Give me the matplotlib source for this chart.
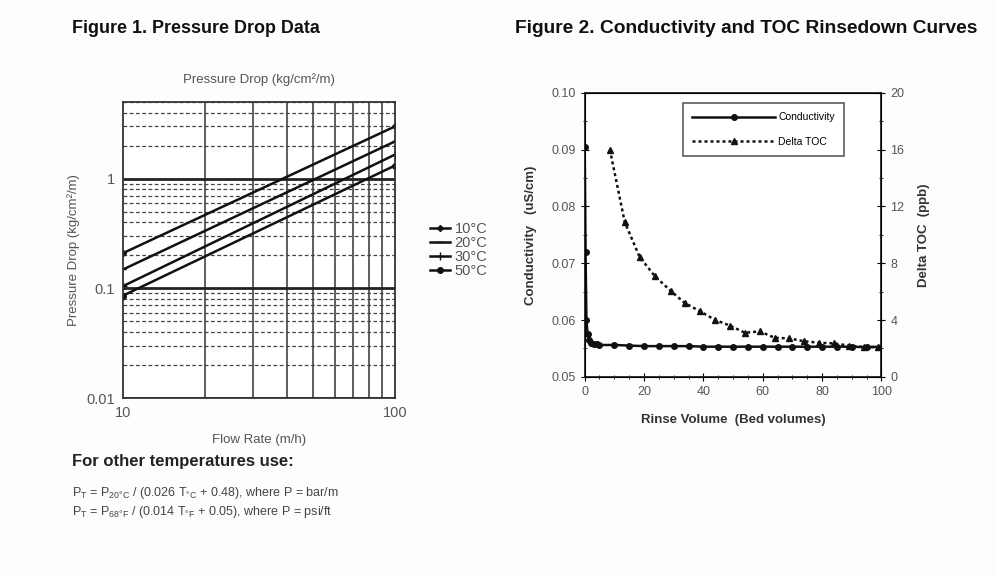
import matplotlib
matplotlib.use('Agg')
import matplotlib.pyplot as plt
from matplotlib.ticker import MultipleLocator, LogLocator, NullFormatter, FixedLocator

plt.rcParams['font.family'] = ['Liberation Sans', 'DejaVu Sans']
plt.rcParams['mathtext.default'] = 'regular'

# Figure 1: Druckverlust je Temperatur (Endpunkte der Geraden)
flow_rate = [10, 100]
dp_10c = [0.21, 3.0]
dp_20c = [0.149, 2.19]
dp_30c = [0.105, 1.66]
dp_50c = [0.086, 1.32]
temp_labels = ['10°C', '20°C', '30°C', '50°C']

# Figure 2: Spuelkurven
cond_x = [0, 0.3, 0.6, 1, 1.5, 2, 3, 4, 5, 10, 15, 20, 25, 30, 35, 40, 45, 50,
          55, 60, 65, 70, 75, 80, 85, 90, 95, 100]
cond_y = [0.0905, 0.072, 0.060, 0.0575, 0.0565, 0.0560, 0.0558, 0.0557, 0.0556,
          0.0556, 0.0555, 0.0554, 0.0554, 0.0554, 0.0554, 0.0553, 0.0553, 0.0553,
          0.0553, 0.0553, 0.0553, 0.0553, 0.0553, 0.0553, 0.0553, 0.0553, 0.0552, 0.0553]
toc_x = [8.5, 13.5, 18.5, 23.6, 29, 33.7, 39, 44, 49, 54, 59, 64, 69, 74, 79, 84, 89, 94, 99]
toc_y = [16.0, 10.9, 8.45, 7.1, 6.05, 5.2, 4.6, 4.0, 3.6, 3.1, 3.2, 2.75, 2.7, 2.5,
         2.4, 2.35, 2.2, 2.1, 2.1]

fig = plt.figure(figsize=(9.96, 5.77), dpi=100)
fig.patch.set_facecolor('#fdfdfd')

grey = '#555555'

# ---- Figure 1 ----
ax1 = fig.add_axes([0.1235, 0.310, 0.273, 0.513])
ax1.set_xscale('log')
ax1.set_yscale('log')
ax1.set_xlim(10, 100)
ax1.set_ylim(0.01, 5)
ax1.yaxis.set_major_locator(FixedLocator([0.01, 0.1, 1]))
ax1.yaxis.set_major_formatter(matplotlib.ticker.FixedFormatter(['0.01', '0.1', '1']))
ax1.yaxis.set_minor_locator(LogLocator(base=10, subs=range(2, 10)))
ax1.yaxis.set_minor_formatter(NullFormatter())
ax1.xaxis.set_major_locator(FixedLocator([10, 100]))
ax1.xaxis.set_major_formatter(matplotlib.ticker.FixedFormatter(['10', '100']))
ax1.xaxis.set_minor_locator(LogLocator(base=10, subs=range(2, 10)))
ax1.xaxis.set_minor_formatter(NullFormatter())
ax1.grid(which='major', axis='y', color='#222222', lw=2.0)
ax1.grid(which='minor', axis='y', color='#444444', lw=0.9, ls=(0, (3, 2)))
ax1.grid(which='minor', axis='x', color='#333333', lw=1.1)
ax1.tick_params(which='both', length=0, labelsize=10.5, labelcolor=grey, pad=6)
for s in ax1.spines.values():
    s.set_color('#333333')
    s.set_linewidth(1.3)

ax1.plot(flow_rate, dp_10c, color='#111111', lw=1.8, marker='D', ms=3, label=temp_labels[0])
ax1.plot(flow_rate, dp_20c, color='#111111', lw=1.8, marker='_', ms=5, label=temp_labels[1])
ax1.plot(flow_rate, dp_30c, color='#111111', lw=1.8, marker='+', ms=6, label=temp_labels[2])
ax1.plot(flow_rate, dp_50c, color='#111111', lw=1.8, marker='o', ms=4, label=temp_labels[3])
ax1.set_title('Pressure Drop (kg/cm²/m)', fontsize=9.5, color=grey, pad=14)
ax1.set_xlabel('Flow Rate (m/h)', fontsize=9.5, color=grey, labelpad=10)
ax1.set_ylabel('Pressure Drop (kg/cm²/m)', fontsize=9.5, color=grey, labelpad=4)
leg1 = ax1.legend(loc='center left', bbox_to_anchor=(1.08, 0.5), frameon=False,
                  fontsize=10.5, handlelength=1.4, handletextpad=0.3, labelspacing=0.0)
for t in leg1.get_texts():
    t.set_color(grey)

fig.text(0.072, 0.942, 'Figure 1. Pressure Drop Data', fontsize=12.9, fontweight='bold',
         color='#111111')
fig.text(0.072, 0.192, 'For other temperatures use:', fontsize=12, fontweight='bold',
         color='#222222')
fig.text(0.072, 0.140, 'P$_T$ = P$_{20°C}$ / (0.026 T$_{°C}$ + 0.48), where P = bar/m',
         fontsize=9, color='#444444')
fig.text(0.072, 0.107, 'P$_T$ = P$_{68°F}$ / (0.014 T$_{°F}$ + 0.05), where P = psi/ft',
         fontsize=9, color='#444444')

# ---- Figure 2 ----
ax2 = fig.add_axes([0.587, 0.347, 0.298, 0.492])
ax2.set_xlim(0, 100)
ax2.set_ylim(0.05, 0.10)
ax2.xaxis.set_major_locator(MultipleLocator(20))
ax2.xaxis.set_minor_locator(MultipleLocator(5))
ax2.yaxis.set_major_locator(MultipleLocator(0.01))
ax2.yaxis.set_minor_locator(MultipleLocator(0.005))
ax2.yaxis.set_major_formatter(matplotlib.ticker.FormatStrFormatter('%.2f'))
ax2.tick_params(which='major', direction='inout', length=6, labelsize=9, labelcolor=grey)
ax2.tick_params(which='minor', direction='inout', length=3)
for s in ax2.spines.values():
    s.set_color('#222222')
    s.set_linewidth(1.3)

l1, = ax2.plot(cond_x, cond_y, color='#111111', lw=1.8, marker='o', ms=4, label='Conductivity')

ax3 = ax2.twinx()
ax3.set_ylim(0, 20)
ax3.yaxis.set_major_locator(MultipleLocator(4))
ax3.yaxis.set_minor_locator(MultipleLocator(2))
ax3.tick_params(which='major', direction='inout', length=6, labelsize=9, labelcolor=grey)
ax3.tick_params(which='minor', direction='inout', length=3)
l2, = ax3.plot(toc_x, toc_y, color='#111111', lw=1.8, ls=(0, (1.2, 1.2)), marker='^', ms=4,
               label='Delta TOC')

ax2.set_xlabel('Rinse Volume  (Bed volumes)', fontsize=9.5, fontweight='bold', color='#333333',
               labelpad=12)
ax2.set_ylabel('Conductivity   (uS/cm)', fontsize=9.5, fontweight='bold', color='#333333',
               labelpad=10)
ax3.set_ylabel('Delta TOC  (ppb)', fontsize=9.5, fontweight='bold', color='#333333', labelpad=10)

leg2 = ax3.legend(handles=[l1, l2], loc='upper left', bbox_to_anchor=(0.33, 0.965),
                  fontsize=7.5, frameon=True, fancybox=False, edgecolor='#333333',
                  handlelength=8, handletextpad=0.3, borderpad=0.9, labelspacing=1.4,
                  borderaxespad=0)
leg2.get_frame().set_linewidth(1.2)

fig.text(0.517, 0.942, 'Figure 2. Conductivity and TOC Rinsedown Curves', fontsize=13.8,
         fontweight='bold', color='#111111')

fig.savefig('out.png', dpi=100, facecolor=fig.get_facecolor())
